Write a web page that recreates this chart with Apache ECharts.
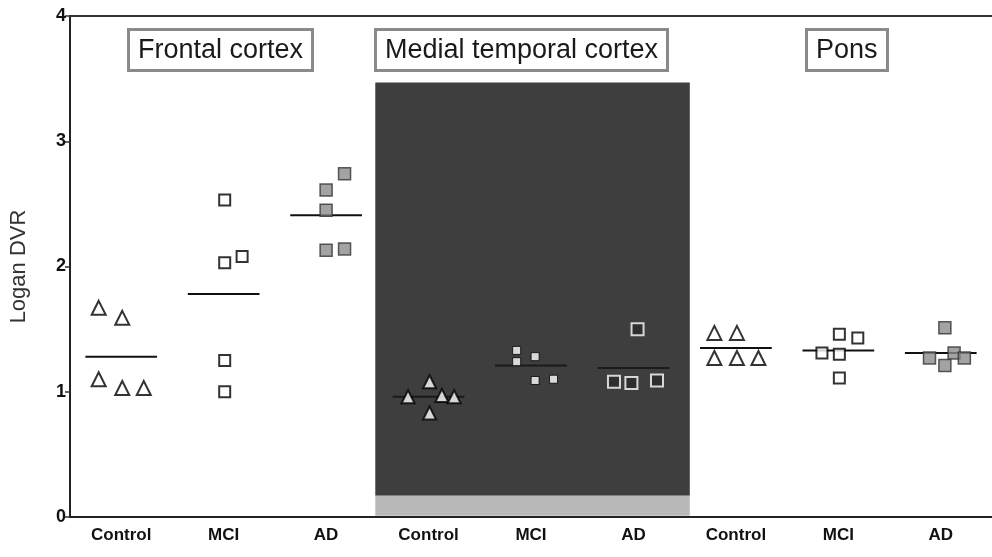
<!DOCTYPE html>
<html>
<head>
<meta charset="utf-8">
<script src="https://cdn.jsdelivr.net/npm/echarts@6/dist/echarts.min.js"></script>
<style>
  html, body { margin: 0; padding: 0; background: #fff; }
  #chart { width: 992px; height: 557px; }
</style>
</head>
<body>
<div id="chart"></div>
<script>
// categories along the bottom, three regions of three groups each
var groupNames = ['Control', 'MCI', 'AD', 'Control', 'MCI', 'AD', 'Control', 'MCI', 'AD'];
var regionNames = ['Frontal cortex', 'Medial temporal cortex', 'Pons'];
var yTicks = [0, 1, 2, 3, 4];

// Logan DVR per subject
var values = [
  [1.67, 1.59, 1.10, 1.03, 1.03],
  [2.53, 2.03, 2.08, 1.25, 1.00],
  [2.74, 2.61, 2.45, 2.13, 2.14],
  [1.08, 0.96, 0.97, 0.96, 0.83],
  [1.33, 1.24, 1.28, 1.09, 1.10],
  [1.50, 1.08, 1.07, 1.09],
  [1.47, 1.47, 1.27, 1.27, 1.27],
  [1.46, 1.43, 1.31, 1.30, 1.11],
  [1.51, 1.27, 1.31, 1.21, 1.27]
];
// horizontal spread of the points inside a group (in category units)
var jitter = [
  [-0.22, 0.01, -0.22, 0.01, 0.22],
  [0.01, 0.01, 0.18, 0.01, 0.01],
  [0.18, 0, 0, 0, 0.18],
  [0.01, -0.2, 0.13, 0.25, 0.01],
  [-0.14, -0.14, 0.04, 0.04, 0.22],
  [0.04, -0.19, -0.02, 0.23],
  [-0.21, 0.01, -0.21, 0.01, 0.22],
  [0.01, 0.19, -0.16, 0.01, 0.01],
  [0.04, -0.11, 0.13, 0.04, 0.23]
];
// group mean bars
var means = [1.28, 1.78, 2.41, 0.96, 1.21, 1.19, 1.35, 1.33, 1.31];

var FONT = 'Liberation Sans';

function markerStyle(i) {
  var kind = i % 3;
  var medial = i >= 3 && i <= 5;
  if (kind === 0) {
    return { symbol: 'triangle', size: medial ? 13 : 14,
      style: { color: '#fff', borderColor: '#000', borderWidth: 2 } };
  }
  if (kind === 1) {
    return { symbol: 'rect', size: medial ? 8 : 11,
      style: { color: '#fff', borderColor: '#000', borderWidth: medial ? 1 : 2 } };
  }
  if (medial) {
    return { symbol: 'rect', size: 12,
      style: { color: '#2a2a2a', borderColor: '#fff', borderWidth: 2 } };
  }
  return { symbol: 'rect', size: 12,
    style: { color: '#8c8c8c', borderColor: '#333', borderWidth: 1.5 } };
}

var series = [];

// dark backdrop of the medial temporal panel
series.push({
  type: 'scatter',
  xAxisIndex: 0,
  data: [],
  z: 1,
  silent: true,
  markArea: {
    silent: true,
    itemStyle: { color: '#3e3e3e' },
    data: [
      [{ coord: [2.98, 0.17] }, { coord: [6.05, 3.47] }],
      [{ coord: [2.98, 0.01], itemStyle: { color: '#b8b8b8' } }, { coord: [6.05, 0.17] }]
    ]
  }
});

groupNames.forEach(function (name, i) {
  var m = markerStyle(i);
  var c = i + 0.5;
  var medial = i >= 3 && i <= 5;
  series.push({
    type: 'line',
    xAxisIndex: 0,
    z: 3,
    symbol: 'none',
    silent: true,
    lineStyle: { color: medial ? '#1a1a1a' : '#111', width: 2 },
    data: [[c - 0.35, means[i]], [c + 0.35, means[i]]]
  });
  series.push({
    type: 'scatter',
    xAxisIndex: 0,
    z: 4,
    symbol: m.symbol,
    symbolSize: m.size,
    itemStyle: m.style,
    data: values[i].map(function (v, k) { return [c + jitter[i][k], v]; })
  });
});

var titleLeft = [128, 375, 806];
var titles = regionNames.map(function (t, i) {
  return {
    text: t,
    left: titleLeft[i],
    top: 29,
    backgroundColor: '#fff',
    borderColor: '#8a8a8a',
    borderWidth: 3,
    padding: [8, 10, 7, 10],
    textStyle: { fontFamily: FONT, fontSize: 27, fontWeight: 'normal', color: '#1a1a1a' }
  };
});

var chart = echarts.init(document.getElementById('chart'));
chart.setOption({
  animation: false,
  title: titles,
  grid: { left: 70, right: 0, top: 16, bottom: 40 },
  xAxis: [
    { type: 'value', min: 0, max: 9, show: false },
    {
      type: 'category',
      data: groupNames,
      position: 'bottom',
      boundaryGap: true,
      axisLine: { lineStyle: { color: '#222', width: 2 } },
      axisTick: { alignWithLabel: true, length: 6, lineStyle: { color: '#444', width: 1.5 } },
      axisLabel: { fontFamily: FONT, fontSize: 17, fontWeight: 'bold', color: '#111', margin: 10 },
      splitLine: { show: false }
    },
    {
      type: 'category',
      data: groupNames,
      position: 'top',
      axisLine: { lineStyle: { color: '#333', width: 2 } },
      axisTick: { show: false },
      axisLabel: { show: false }
    }
  ],
  yAxis: {
    type: 'value',
    min: yTicks[0],
    max: yTicks[yTicks.length - 1],
    interval: 1,
    name: 'Logan DVR',
    nameLocation: 'middle',
    nameGap: 40,
    nameTextStyle: { fontFamily: FONT, fontSize: 22, color: '#333' },
    axisLine: { show: true, lineStyle: { color: '#222', width: 2 } },
    axisTick: { show: true, length: 5, lineStyle: { color: '#333', width: 1.5 } },
    axisLabel: { fontFamily: FONT, fontSize: 18, fontWeight: 'bold', color: '#111', margin: 4 },
    splitLine: { show: false }
  },
  series: series
});
</script>
</body>
</html>
